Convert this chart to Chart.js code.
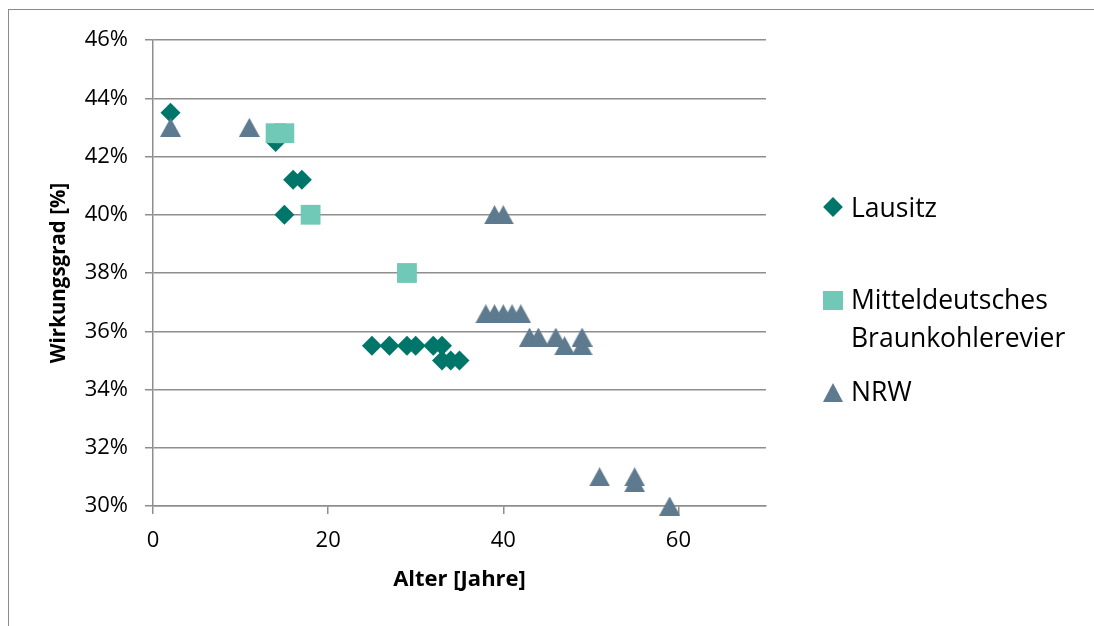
<!DOCTYPE html>
<html>
<head>
<meta charset="utf-8">
<script src="https://cdn.jsdelivr.net/npm/chart.js@4"></script>
<style>
    body { margin: 0; background: #fff; }
    #wrap { position: relative; width: 1094px; height: 626px; overflow: hidden; }
    #frame { position: absolute; left: 8px; top: 9px; width: 1200px; height: 700px;
             border-left: 1.5px solid #8a8a8a; border-top: 1.5px solid #8a8a8a; }
    canvas { position: absolute; left: 0; top: 0; }
    .leg { position: absolute; left: 851px; font-family: "Open Sans", sans-serif; font-size: 26.5px;
           line-height: 38px; color: #000; white-space: nowrap; }
    .icon { position: absolute; }
</style>
</head>
<body>
<div id="wrap">
    <div id="frame"></div>
    <canvas id="chart" width="1094" height="626"></canvas>
    <div id="legend"></div>
</div>
<script>
// =========================
// DATA (age in years, efficiency in %)
// =========================
const lausitzAge = [2, 14, 16, 17, 15, 25, 27, 29, 30, 32, 33, 33, 34, 35];
const lausitzEff = [43.5, 42.5, 41.2, 41.2, 40, 35.5, 35.5, 35.5, 35.5, 35.5, 35.5, 35, 35, 35];

const mitteAge = [14, 15, 18, 29];
const mitteEff = [42.8, 42.8, 40, 38];

const nrwAge = [2, 11, 39, 40, 38, 39, 40, 41, 42, 43, 44, 46, 49, 47, 49, 51, 55, 55, 59];
const nrwEff = [43, 43, 40, 40, 36.6, 36.6, 36.6, 36.6, 36.6, 35.8, 35.8, 35.8, 35.8, 35.5, 35.5, 31, 31, 30.8, 30];

const seriesNames = ["Lausitz", "Mitteldeutsches\nBraunkohlerevier", "NRW"];
const yTicks = [30, 32, 34, 36, 38, 40, 42, 44, 46];
const xTicks = [0, 20, 40, 60];

const COLORS = ["#00766a", "#70c8b6", "#5e7a8f"];
const FONT = "'Open Sans', sans-serif";
const GRID = "#8e8e8e";

function toPoints(xs, ys) {
    return xs.map((x, i) => ({ x: x, y: ys[i] }));
}

// triangle centred on its bounding box (like the office marker), not on its circumcentre
function triangleMarker(w, h, color) {
    const c = document.createElement("canvas");
    c.width = w;
    c.height = h;
    const g = c.getContext("2d");
    g.fillStyle = color;
    g.beginPath();
    g.moveTo(w / 2, 0);
    g.lineTo(w, h);
    g.lineTo(0, h);
    g.closePath();
    g.fill();
    return c;
}

// =========================
// CHART
// =========================
const ctx = document.getElementById("chart").getContext("2d");

new Chart(ctx, {
    type: "scatter",
    data: {
        datasets: [
            { label: seriesNames[0], data: toPoints(lausitzAge, lausitzEff), pointStyle: "rectRot",
              pointRadius: 10, backgroundColor: COLORS[0], borderWidth: 0, order: 3, clip: false },
            { label: seriesNames[1], data: toPoints(mitteAge, mitteEff), pointStyle: "rect",
              pointRadius: 14, backgroundColor: COLORS[1], borderWidth: 0, order: 2, clip: false },
            { label: seriesNames[2], data: toPoints(nrwAge, nrwEff), pointStyle: triangleMarker(21, 19, COLORS[2]),
              pointRadius: 11, backgroundColor: COLORS[2], borderWidth: 0, order: 1, clip: false }
        ]
    },
    options: {
        responsive: false,
        animation: false,
        events: [],
        layout: { padding: { top: 40, right: 328, bottom: 0, left: 0 } },
        plugins: {
            legend: { display: false },
            tooltip: { enabled: false }
        },
        scales: {
            x: {
                type: "linear",
                min: 0,
                max: 70,
                afterBuildTicks: (scale) => {
                    scale.ticks = xTicks.map(v => ({ value: v }));
                },
                afterFit: (scale) => { scale.height = 120; },
                grid: { drawOnChartArea: false, drawTicks: true, tickLength: 8, color: GRID, lineWidth: 1.5 },
                border: { color: GRID, width: 1.5 },
                ticks: { color: "#000", padding: 14, maxRotation: 0, font: { family: FONT, size: 22 } },
                title: {
                    display: true,
                    text: "Alter [Jahre]",
                    color: "#000",
                    font: { family: FONT, size: 22, weight: "bold" },
                    padding: { top: 0, bottom: 33 }
                }
            },
            y: {
                min: 30,
                max: 46,
                afterBuildTicks: (scale) => {
                    scale.ticks = yTicks.map(v => ({ value: v }));
                },
                afterFit: (scale) => { scale.width = 153; },
                grid: { drawOnChartArea: true, drawTicks: true, tickLength: 8, color: GRID, lineWidth: 1.5 },
                border: { color: GRID, width: 1.5 },
                ticks: {
                    color: "#000",
                    padding: 17,
                    font: { family: FONT, size: 22 },
                    callback: (v) => v + "%"
                },
                title: {
                    display: true,
                    text: "Wirkungsgrad [%]",
                    color: "#000",
                    font: { family: FONT, size: 20.5, weight: "bold" },
                    padding: { top: 47, bottom: 0 }
                }
            }
        }
    }
});

// =========================
// LEGEND (html, right side)
// =========================
const legend = document.getElementById("legend");
const legendRows = [
    { top: 188, iconTop: 200, shape: "diamond" },
    { top: 280, iconTop: 291, shape: "square" },
    { top: 372, iconTop: 383, shape: "triangle" }
];

legendRows.forEach((row, i) => {
    const icon = document.createElement("div");
    icon.className = "icon";
    icon.style.background = COLORS[i];
    if (row.shape === "diamond") {
        icon.style.left = "826px"; icon.style.top = row.iconTop + "px";
        icon.style.width = "14px"; icon.style.height = "14px";
        icon.style.transform = "rotate(45deg)";
    } else if (row.shape === "square") {
        icon.style.left = "823px"; icon.style.top = row.iconTop + "px";
        icon.style.width = "20px"; icon.style.height = "19px";
    } else {
        icon.style.left = "823px"; icon.style.top = row.iconTop + "px";
        icon.style.width = "20px"; icon.style.height = "19px";
        icon.style.clipPath = "polygon(50% 0, 100% 100%, 0 100%)";
    }
    legend.appendChild(icon);

    const text = document.createElement("div");
    text.className = "leg";
    text.style.top = row.top + "px";
    text.innerHTML = seriesNames[i].split("\n").join("<br>");
    legend.appendChild(text);
});
</script>
</body>
</html>
